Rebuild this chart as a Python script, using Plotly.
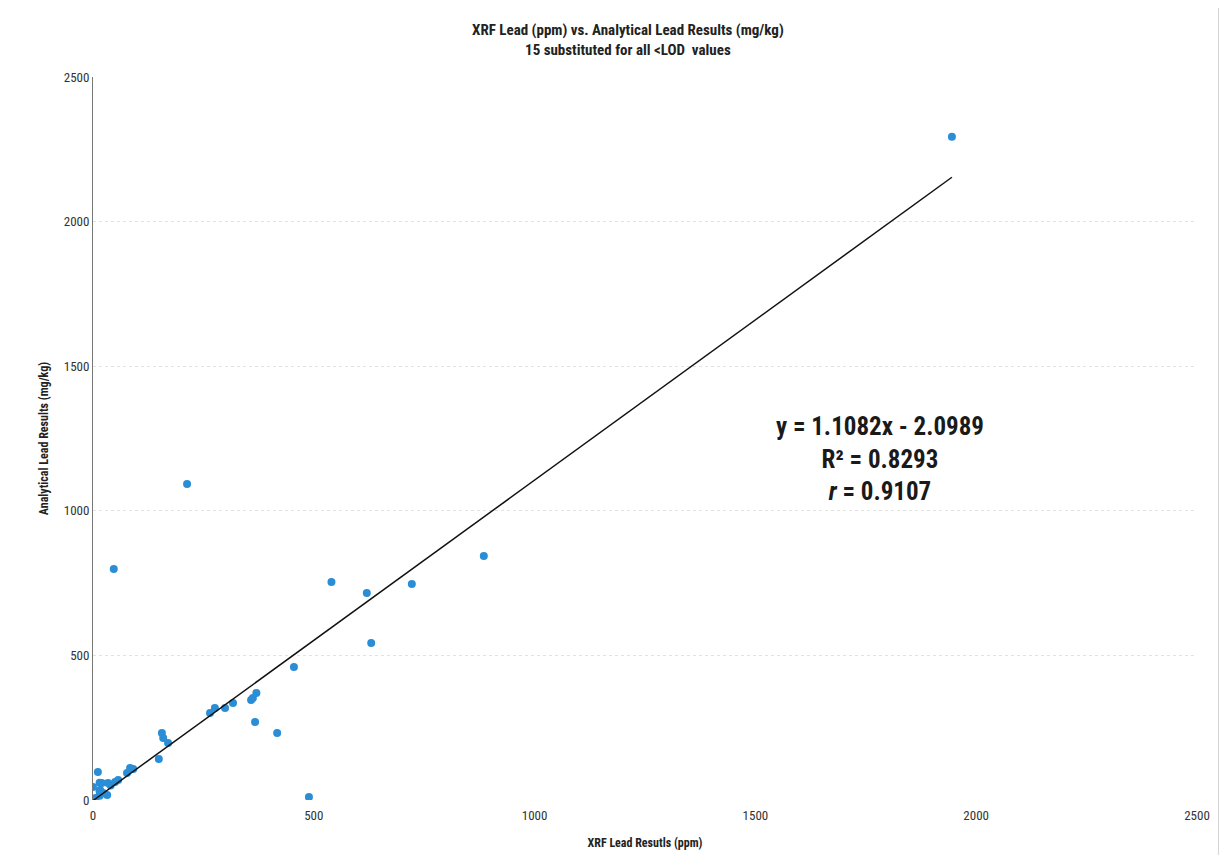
import plotly.graph_objects as go

# XRF lead (ppm) vs analytical lead (mg/kg)
xrf_ppm = [1945, 213, 47, 540, 885, 620, 722, 630, 455, 489,
           417, 367, 362, 358, 370, 317, 299, 276, 265,
           156, 159, 170, 149,
           77, 84, 91, 57, 50, 34, 20, 11, 0, 15, 23, 16, 5, 32, 15, 15, 40]
lab_mgkg = [2293, 1093, 799, 754, 844, 716, 747, 543, 460, 10,
            232, 270, 353, 346, 370, 335, 318, 318, 301,
            232, 214, 197, 142,
            93, 111, 107, 69, 62, 59, 59, 97, 45, 15, 24, 35, 7, 17, 30, 60, 50]

slope = 1.1082
intercept = -2.0989
eq_lines = ["y = 1.1082x - 2.0989", "R² = 0.8293", "<i>r</i> = 0.9107"]

title_lines = ["XRF Lead (ppm) vs. Analytical Lead Results (mg/kg)",
               "15 substituted for all <LOD  values"]
x_title = "XRF Lead Resutls (ppm)"
y_title = "Analytical Lead Results (mg/kg)"
tick_vals = [0, 500, 1000, 1500, 2000, 2500]

font_fam = "Liberation Sans Narrow, Roboto Condensed, Arial Narrow, Roboto, sans-serif"

fig = go.Figure()
fig.add_trace(go.Scatter(
    x=xrf_ppm, y=lab_mgkg, mode="markers",
    marker=dict(color="#2a8ed6", size=8, line=dict(width=0)),
    showlegend=False,
))
xl = [min(xrf_ppm), max(xrf_ppm)]
fig.add_trace(go.Scatter(
    x=xl, y=[slope * v + intercept for v in xl], mode="lines",
    line=dict(color="#111111", width=1.5), showlegend=False,
))

fig.add_annotation(
    x=1782, y=1178, xref="x", yref="y", showarrow=False,
    text="<b>" + "<br>".join(eq_lines) + "</b>",
    font=dict(family=font_fam, size=25, color="#1a1a1a"),
    align="center",
)
fig.add_annotation(
    x=0.485, y=1.0, xref="paper", yref="paper", yanchor="bottom", yshift=16,
    showarrow=False, text="<b>" + "<br>".join(title_lines) + "</b>",
    font=dict(family=font_fam, size=15, color="#222222"), align="center",
)

fig.add_shape(type="rect", xref="paper", yref="paper",
              x0=-0.079, x1=1.020, y0=-0.078, y1=1.097,
              line=dict(color="#999999", width=1))

fig.update_layout(
    width=1211, height=847,
    margin=dict(l=85, r=22, t=69, b=55),
    paper_bgcolor="white", plot_bgcolor="white",
    font=dict(family=font_fam, color="#333333"),
    xaxis=dict(range=[0, 2500], tickvals=tick_vals, showgrid=False, zeroline=False,
               showline=False, ticks="", ticklabelstandoff=6, automargin=False,
               tickfont=dict(size=13, color="#333333"),
               title=dict(text="<b>" + x_title + "</b>", font=dict(size=12, color="#222222"),
                          standoff=16)),
    yaxis=dict(range=[0, 2500], tickvals=tick_vals, showgrid=True, automargin=False,
               gridcolor="#e2e2e2", griddash="dot", gridwidth=1, zeroline=False,
               showline=True, linecolor="#777777", linewidth=1, ticks="",
               tickfont=dict(size=13, color="#333333"),
               title=dict(text="<b>" + y_title + "</b>", font=dict(size=12, color="#222222"),
                          standoff=12)),
)

fig.write_html("out.html")
